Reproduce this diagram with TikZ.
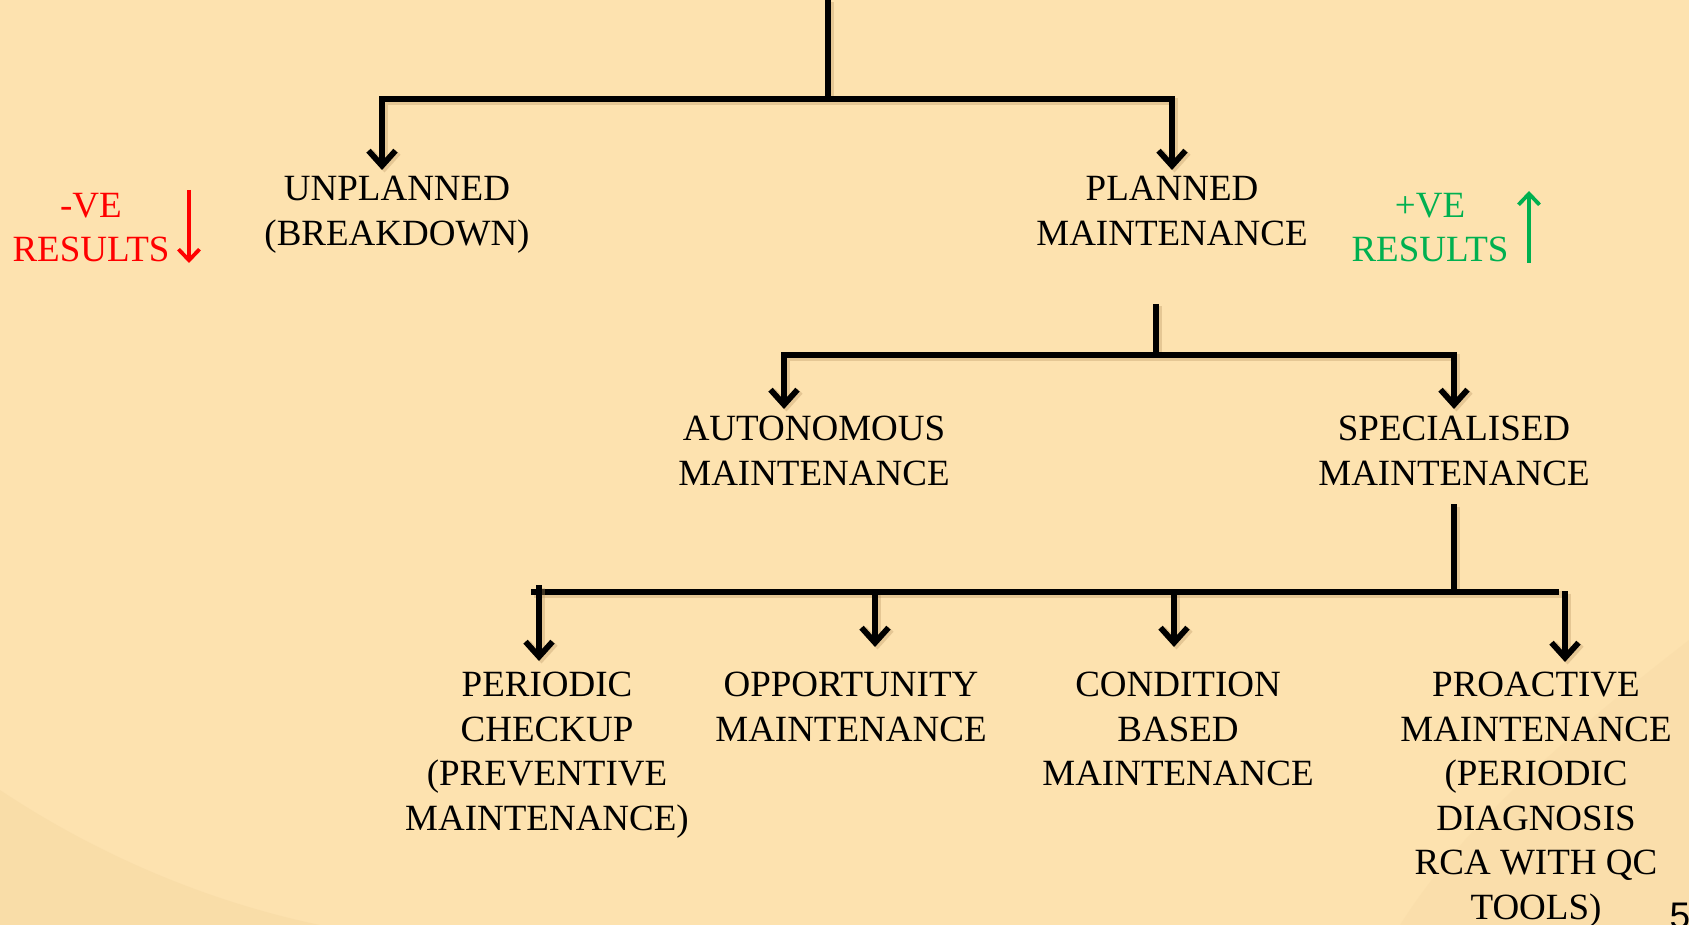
\documentclass[tikz,border=0pt]{standalone}
\usepackage{fontspec}
\setmainfont{Liberation Serif}
\newfontfamily\sansf{Liberation Sans}
\usetikzlibrary{arrows.meta}
\definecolor{bgcol}{RGB}{253,226,175}
\definecolor{bgdark}{RGB}{240,210,155}
\definecolor{redc}{RGB}{255,0,0}
\definecolor{greenc}{RGB}{0,176,80}
\definecolor{shadowc}{RGB}{185,150,100}
\begin{document}
\begin{tikzpicture}[x=1pt,y=-1pt,
  lbl/.style={inner sep=0pt, anchor=north, align=center, font=\fontsize{37}{44.5}\selectfont},
  conn/.style={line width=5.8pt, draw=black,
    preaction={draw=shadowc, opacity=0.35, line width=7pt, transform canvas={shift={(2.5pt,-2.5pt)}}}},
  arr/.style={conn, -{Straight Barb[length=15pt,width=27pt]}},
  smallarr/.style={line width=3.8pt, -{Straight Barb[length=11pt,width=21pt]}}]
\fill[bgcol] (0,0) rectangle (1689,925);
\useasboundingbox (0,0) rectangle (1689,925);
\clip (0,0) rectangle (1689,925);
% faint page-curl shading
\fill[bgdark, opacity=0.3] (0,790) .. controls (90,850) and (200,900) .. (320,925) -- (0,925) -- cycle;
\fill[bgdark, opacity=0.2] (1689,640) .. controls (1560,740) and (1460,830) .. (1400,925) -- (1689,925) -- cycle;

% labels
\node[lbl] (unpl) at (397,176) {UNPLANNED\\(BREAKDOWN)};
\node[lbl] (plan) at (1172,176) {PLANNED\\MAINTENANCE};
\node[lbl, text=redc] (neg) at (91,193) {-VE\\RESULTS};
\node[lbl, text=greenc] (pos) at (1430,193) {+VE\\RESULTS};
\node[lbl] (auto) at (814,416) {AUTONOMOUS\\MAINTENANCE};
\node[lbl] (spec) at (1454,416) {SPECIALISED\\MAINTENANCE};
\node[lbl] (peri) at (547,672) {PERIODIC\\CHECKUP\\(PREVENTIVE\\MAINTENANCE)};
\node[lbl] (oppo) at (851,672) {OPPORTUNITY\\MAINTENANCE};
\node[lbl] (cond) at (1178,672) {CONDITION\\BASED\\MAINTENANCE};
\node[lbl] (proa) at (1536,672) {PROACTIVE\\MAINTENANCE\\(PERIODIC\\DIAGNOSIS\\RCA WITH QC\\TOOLS)};
\node[anchor=north, inner sep=0pt, font=\sansf\fontsize{37}{40}\selectfont] (pg) at (1680,903) {5};

% level 1
\coordinate (c0) at (828,0);
\coordinate (c1) at (828,99);
\draw[conn] (c0) -- (c1);
\draw[arr, shorten >=6pt] (c1) -| ([xshift=-15pt]unpl.north);
\draw[arr, shorten >=6pt] (c1) -| (plan.north);

% level 2
\coordinate (c2) at (1156,304);
\coordinate (c3) at (1156,355);
\draw[conn] (c2) -- (c3);
\draw[arr, shorten >=7pt] (c3) -| ([xshift=-30pt]auto.north);
\draw[arr, shorten >=7pt] (c3) -| (spec.north);

% level 3
\coordinate (c4) at (1454,504);
\coordinate (c5) at (1454,592);
\coordinate (h3l) at (531,592);
\coordinate (h3r) at (1559,592);
\coordinate (t1) at (539,585);
\coordinate (t2) at (875,592);
\coordinate (t3) at (1174,592);
\coordinate (t4) at (1565,591);
\draw[conn] (c4) -- (c5);
\draw[conn] (h3l) -- (h3r);
\draw[arr, shorten >=11pt] (t1) -- (t1 |- peri.north);
\draw[arr, shorten >=25pt] (t2) -- (t2 |- oppo.north);
\draw[arr, shorten >=25pt] (t3) -- (t3 |- cond.north);
\draw[arr, shorten >=10pt] (t4) -- (t4 |- proa.north);

% result arrows
\coordinate (ra) at (189,190);
\coordinate (rb) at (189,263);
\draw[smallarr, draw=redc] (ra) -- (rb);
\coordinate (ga) at (1529,263);
\coordinate (gb) at (1529,191);
\draw[smallarr, draw=greenc] (ga) -- (gb);
\end{tikzpicture}
\end{document}
